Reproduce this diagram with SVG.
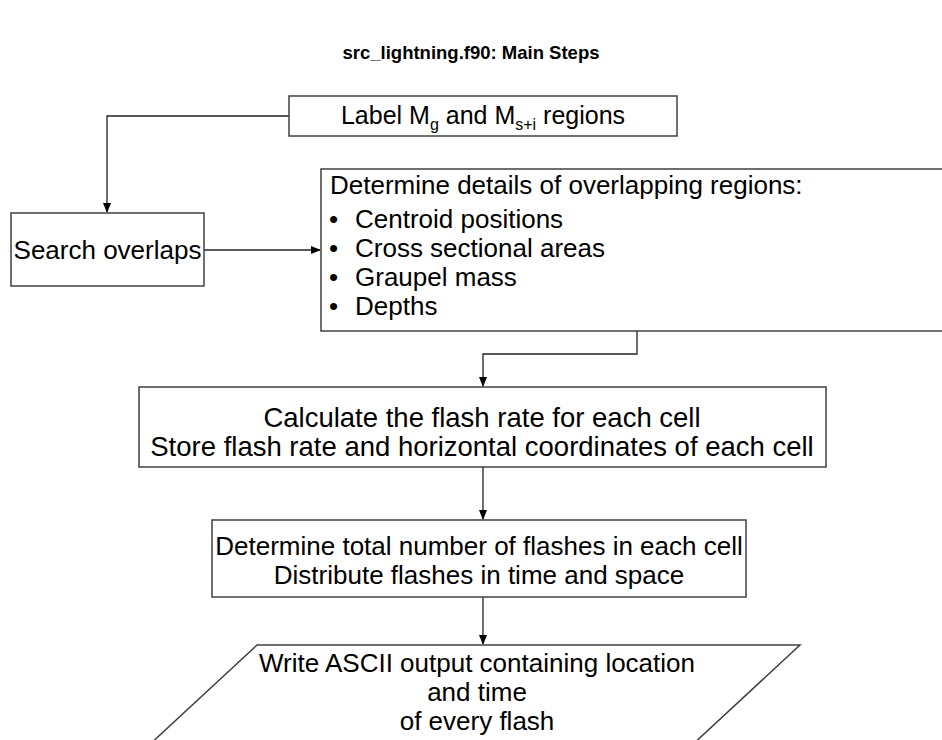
<svg xmlns="http://www.w3.org/2000/svg" width="942" height="740" viewBox="0 0 942 740">
<style>
.box{fill:#fff;stroke:#404040;stroke-width:1.5}
.t{font-family:"Liberation Sans",Arial,sans-serif;font-size:26px;fill:#000}
.c{text-anchor:middle}
.ln{fill:none;stroke:#222;stroke-width:1.3}
</style>
<defs>
<marker id="ah" markerWidth="10" markerHeight="10" refX="9" refY="5" orient="auto" markerUnits="userSpaceOnUse">
<path d="M0,1 L10,5 L0,9 Z" fill="#000"/>
</marker>
</defs>
<rect width="942" height="740" fill="#fff"/>
<text x="471" y="59" text-anchor="middle" style="font-family:'Liberation Sans',Arial,sans-serif;font-size:18.5px;font-weight:bold">src_lightning.f90: Main Steps</text>
<g id="connectors">
<path class="ln" d="M289,116 H107 V212" marker-end="url(#ah)"/>
<path class="ln" d="M204,250 H320" marker-end="url(#ah)"/>
<path class="ln" d="M637,331 V354 H483 V386" marker-end="url(#ah)"/>
<path class="ln" d="M483,467 V519" marker-end="url(#ah)"/>
<path class="ln" d="M483,597 V644" marker-end="url(#ah)"/>
</g>
<g id="label">
<rect class="box" x="289" y="96" width="388" height="40"/>
<text class="t c" x="483" y="124" style="font-size:25px">Label M<tspan font-size="16" dy="6">g</tspan><tspan dy="-6"> and M</tspan><tspan font-size="16" dy="6">s+i</tspan><tspan dy="-6"> regions</tspan></text>
</g>
<g id="search">
<rect class="box" x="11" y="213" width="193" height="73"/>
<text class="t c" x="107.5" y="259">Search overlaps</text>
</g>
<g id="details">
<rect class="box" x="321" y="169" width="640" height="162"/>
<text class="t" x="330" y="194">Determine details of overlapping regions:</text>
<text class="t" x="329" y="228">•</text><text class="t" x="355" y="228">Centroid positions</text>
<text class="t" x="329" y="257">•</text><text class="t" x="355" y="257">Cross sectional areas</text>
<text class="t" x="329" y="286">•</text><text class="t" x="355" y="286">Graupel mass</text>
<text class="t" x="329" y="315">•</text><text class="t" x="355" y="315">Depths</text>
</g>
<g id="calc">
<rect class="box" x="139" y="387" width="687" height="80"/>
<text class="t c" x="482" y="427" style="font-size:27.5px">Calculate the flash rate for each cell</text>
<text class="t c" x="482" y="456" style="font-size:27.5px">Store flash rate and horizontal coordinates of each cell</text>
</g>
<g id="total">
<rect class="box" x="212" y="520" width="534" height="77"/>
<text class="t c" x="479" y="555">Determine total number of flashes in each cell</text>
<text class="t c" x="479" y="584">Distribute flashes in time and space</text>
</g>
<g id="output">
<path class="box" d="M257,645 H800 L690,747 H147 Z"/>
<text class="t c" x="477" y="672">Write ASCII output containing location</text>
<text class="t c" x="477" y="701">and time</text>
<text class="t c" x="477" y="730">of every flash</text>
</g>
</svg>
